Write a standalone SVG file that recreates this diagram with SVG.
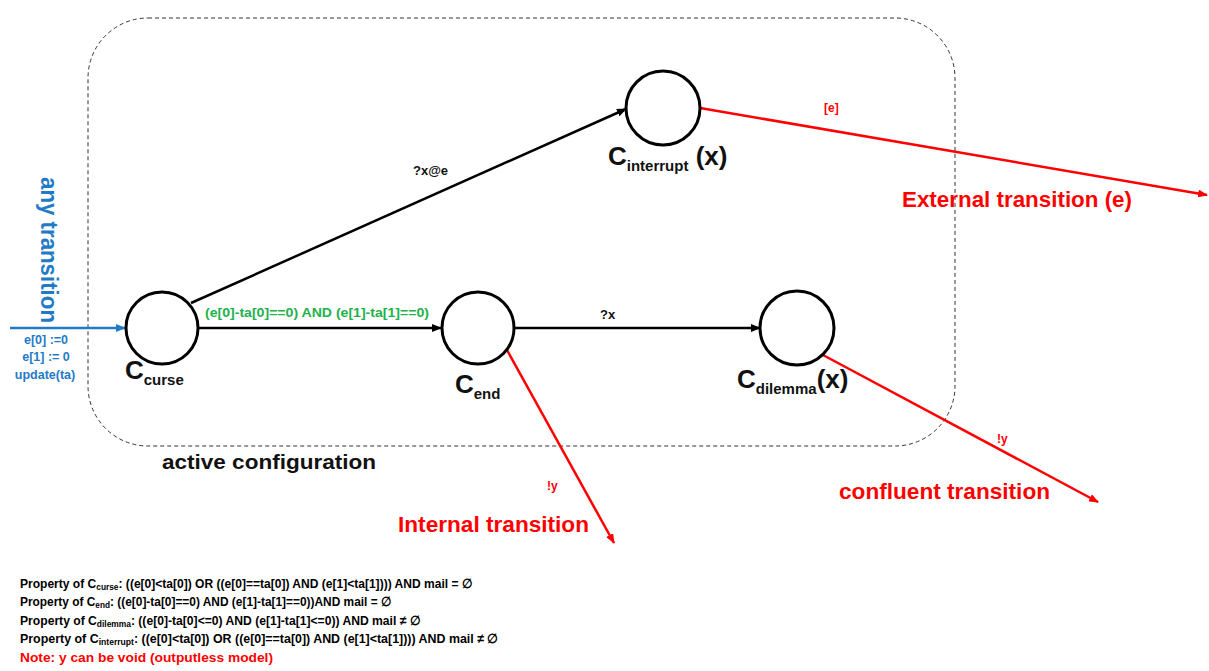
<svg xmlns="http://www.w3.org/2000/svg" width="1209" height="671" viewBox="0 0 1209 671">
<defs>
<style>
text{font-family:"Liberation Sans",Arial,sans-serif;font-weight:bold}
.node{fill:#fff;stroke:#000;stroke-width:3}
.blk{stroke:#000;stroke-width:2.5;fill:none}
.red{stroke:#ff0000;stroke-width:2.5;fill:none}
.blu{stroke:#1f7bc8;stroke-width:2.5;fill:none}
.lbl{font-size:26px;fill:#111}
.sub{font-size:15px;fill:#111}
.rl{fill:#ff0000}
.bl{fill:#1f7bc8}
.prop{font-size:13px;fill:#000}
</style>
<marker id="ab" markerWidth="10" markerHeight="8" refX="9" refY="4" orient="auto" markerUnits="userSpaceOnUse"><path d="M0,0 L10,4 L0,8 Z" fill="#000"/></marker>
<marker id="ar" markerWidth="10" markerHeight="8" refX="9" refY="4" orient="auto" markerUnits="userSpaceOnUse"><path d="M0,0 L10,4 L0,8 Z" fill="#ff0000"/></marker>
<marker id="au" markerWidth="10" markerHeight="8" refX="9" refY="4" orient="auto" markerUnits="userSpaceOnUse"><path d="M0,0 L10,4 L0,8 Z" fill="#1f7bc8"/></marker>
</defs>
<rect width="1209" height="671" fill="#fff"/>
<g id="active-configuration">
<rect x="88" y="18" width="867" height="428" rx="60" ry="60" fill="none" stroke="#333" stroke-width="1" stroke-dasharray="4,3"/>
<text x="162" y="469" font-size="20" fill="#111" textLength="214" lengthAdjust="spacingAndGlyphs">active configuration</text>
</g>
<g id="connectors">
<line class="blu" x1="10" y1="328" x2="125" y2="328" marker-end="url(#au)"/>
<line class="blk" x1="198" y1="328" x2="441" y2="328" marker-end="url(#ab)"/>
<line class="blk" x1="514" y1="328" x2="760" y2="328" marker-end="url(#ab)"/>
<line class="blk" x1="191" y1="303" x2="626" y2="109" marker-end="url(#ab)"/>
<line class="red" x1="700" y1="108" x2="1207" y2="195" marker-end="url(#ar)"/>
<line class="red" x1="507" y1="350" x2="614" y2="543" marker-end="url(#ar)"/>
<line class="red" x1="823" y1="355" x2="1098" y2="502" marker-end="url(#ar)"/>
<text x="413" y="175" font-size="13" fill="#111">?x@e</text>
<text x="600" y="319" font-size="13" fill="#111">?x</text>
<text x="205" y="317" font-size="13" fill="#22b14c" textLength="224" lengthAdjust="spacingAndGlyphs">(e[0]-ta[0]==0) AND (e[1]-ta[1]==0)</text>
<text x="824" y="112" font-size="12" class="rl">[e]</text>
<text x="547" y="490" font-size="12" class="rl">!y</text>
<text x="997" y="443" font-size="12" class="rl">!y</text>
<text x="902" y="207" font-size="22" class="rl" textLength="230" lengthAdjust="spacingAndGlyphs">External transition (e)</text>
<text x="398" y="532" font-size="22" class="rl" textLength="191" lengthAdjust="spacingAndGlyphs">Internal transition</text>
<text x="839" y="499" font-size="22" class="rl" textLength="211" lengthAdjust="spacingAndGlyphs">confluent transition</text>
<text transform="translate(41,177) rotate(90)" font-size="24" class="bl" textLength="146" lengthAdjust="spacingAndGlyphs">any transition</text>
<text x="46" y="344" font-size="12.5" class="bl" text-anchor="middle">e[0] :=0</text>
<text x="46" y="361" font-size="12.5" class="bl" text-anchor="middle">e[1] := 0</text>
<text x="45" y="379" font-size="12.5" class="bl" text-anchor="middle">update(ta)</text>
</g>
<g id="c-curse">
<circle class="node" cx="162" cy="328" r="36"/>
<text x="125" y="379" class="lbl">C<tspan class="sub" dy="6">curse</tspan></text>
</g>
<g id="c-end">
<circle class="node" cx="478" cy="328" r="36"/>
<text x="455" y="393" class="lbl">C<tspan class="sub" dy="6">end</tspan></text>
</g>
<g id="c-dilemma">
<circle class="node" cx="797" cy="328" r="37"/>
<text x="737" y="388" class="lbl">C<tspan class="sub" dy="6">dilemma</tspan><tspan dy="-6">(x)</tspan></text>
</g>
<g id="c-interrupt">
<circle class="node" cx="663" cy="108" r="37"/>
<text x="608" y="165" class="lbl">C<tspan class="sub" dy="6">interrupt</tspan><tspan dy="-6"> (x)</tspan></text>
</g>
<g id="properties">
<text x="20" y="588" class="prop" textLength="452" lengthAdjust="spacingAndGlyphs">Property of C<tspan font-size="9" dy="2">curse</tspan><tspan dy="-2">: ((e[0]&lt;ta[0]) OR ((e[0]==ta[0]) AND (e[1]&lt;ta[1]))) AND mail = ∅</tspan></text>
<text x="20" y="606" class="prop" textLength="371" lengthAdjust="spacingAndGlyphs">Property of C<tspan font-size="9" dy="2">end</tspan><tspan dy="-2">: ((e[0]-ta[0]==0) AND (e[1]-ta[1]==0))AND mail = ∅</tspan></text>
<text x="20" y="625" class="prop" textLength="400" lengthAdjust="spacingAndGlyphs">Property of C<tspan font-size="9" dy="2">dilemma</tspan><tspan dy="-2">: ((e[0]-ta[0]&lt;=0) AND (e[1]-ta[1]&lt;=0)) AND mail ≠ ∅</tspan></text>
<text x="20" y="643" class="prop" textLength="478" lengthAdjust="spacingAndGlyphs">Property of C<tspan font-size="9" dy="2">interrupt</tspan><tspan dy="-2">: ((e[0]&lt;ta[0]) OR ((e[0]==ta[0]) AND (e[1]&lt;ta[1]))) AND mail ≠ ∅</tspan></text>
<text x="20" y="662" class="prop" style="fill:#ff0000" textLength="253" lengthAdjust="spacingAndGlyphs">Note: y can be void (outputless model)</text>
</g>
</svg>
